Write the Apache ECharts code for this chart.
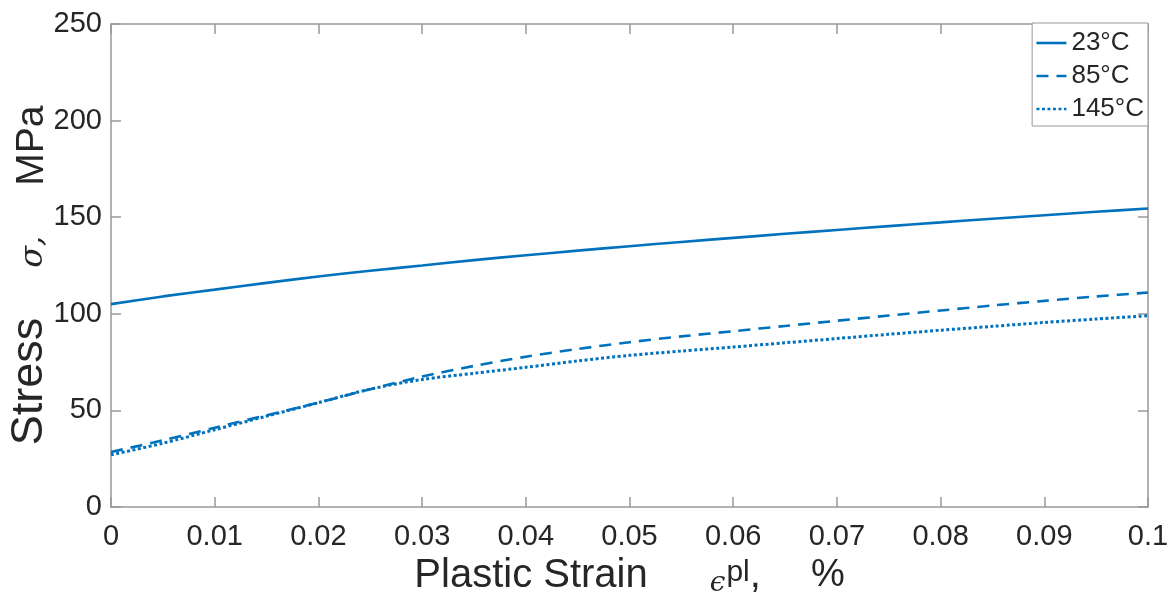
<!DOCTYPE html>
<html>
<head>
<meta charset="utf-8">
<title>Stress vs plastic strain</title>
<script src="https://cdn.jsdelivr.net/npm/echarts@6/dist/echarts.min.js"></script>
<style>
  html, body { margin: 0; padding: 0; background: #fff; }
  #chart { width: 1175px; height: 601px; }
</style>
</head>
<body>
<div id="chart"></div>
<script>
// plastic strain, %
const strain = [0, 0.005, 0.01, 0.015, 0.02, 0.025, 0.03, 0.035, 0.04, 0.045, 0.05,
  0.055, 0.06, 0.065, 0.07, 0.075, 0.08, 0.085, 0.09, 0.095, 0.1]

// stress, MPa
const stress23 = [105, 109, 112.5, 116, 119.3, 122.3, 125, 127.8, 130.3, 132.7, 135,
  137.2, 139.3, 141.4, 143.4, 145.4, 147.3, 149.2, 151, 152.8, 154.5]
const stress85 = [28.5, 34.5, 41, 47.5, 54, 61, 67.5, 73, 77.8, 81.8, 85.3,
  88.3, 91, 93.7, 96.4, 99.1, 101.7, 104.3, 106.7, 109, 111]
const stress145 = [27, 33, 40, 47, 54, 61, 66, 69.2, 72.3, 75.6, 78.5,
  80.7, 82.8, 85, 87.2, 89.4, 91.5, 93.5, 95.5, 97.3, 99]

const seriesNames = ['23°C', '85°C', '145°C']
const xTicks = [0, 0.01, 0.02, 0.03, 0.04, 0.05, 0.06, 0.07, 0.08, 0.09, 0.1]
const yTicks = [0, 50, 100, 150, 200, 250]

const blue = '#0072BD'
const axisGray = '#999999'
const textDark = '#262626'
const font = 'Liberation Sans, Arial, Helvetica, sans-serif'
const serif = 'DejaVu Serif, serif'

const pairs = ys => strain.map((x, i) => [x, ys[i]])

const chart = echarts.init(document.getElementById('chart'))

const baseX = {
  type: 'value',
  min: xTicks[0],
  max: xTicks[xTicks.length - 1],
  interval: 0.01,
  axisLine: { show: true, onZero: false, lineStyle: { color: axisGray, width: 1.5 } },
  axisTick: { show: true, inside: true, length: 10, lineStyle: { color: axisGray, width: 1.5 } },
  splitLine: { show: false }
}
const baseY = {
  type: 'value',
  min: yTicks[0],
  max: yTicks[yTicks.length - 1],
  interval: 50,
  axisLine: { show: true, onZero: false, lineStyle: { color: axisGray, width: 1.5 } },
  axisTick: { show: true, inside: true, length: 10, lineStyle: { color: axisGray, width: 1.5 } },
  splitLine: { show: false }
}

const option = {
  animation: false,
  textStyle: { fontFamily: font },
  grid: { left: 111, right: 27, top: 24, bottom: 94, containLabel: false, outerBoundsMode: 'none' },
  legend: {
    data: seriesNames,
    orient: 'vertical',
    right: 27,
    top: 23,
    backgroundColor: '#fff',
    borderColor: '#999',
    borderWidth: 1,
    borderRadius: 0,
    padding: [7, 4, 4, 3],
    itemGap: 7,
    itemWidth: 30,
    itemHeight: 14,
    itemStyle: { opacity: 0, borderWidth: 0 },
    lineStyle: { width: 2.6 },
    textStyle: { fontSize: 26, color: textDark, fontFamily: font, lineHeight: 26 }
  },
  xAxis: [
    Object.assign({}, baseX, {
      position: 'bottom',
      name: '{a|Plastic Strain}{e|ϵ}{sup|pl}{c|,}{p|%}',
      nameLocation: 'middle',
      nameGap: 42,
      nameTextStyle: {
        color: textDark, fontFamily: font, fontSize: 40,
        rich: {
          a: { fontSize: 40, lineHeight: 40, verticalAlign: 'bottom', color: textDark, fontFamily: font },
          e: { fontSize: 28, lineHeight: 28, verticalAlign: 'bottom', fontFamily: serif, fontStyle: 'italic', color: textDark, padding: [0, 0, -2, 62] },
          sup: { fontSize: 30, lineHeight: 30, verticalAlign: 'bottom', color: textDark, fontFamily: font, padding: [0, 0, 8, 1] },
          c: { fontSize: 40, lineHeight: 40, verticalAlign: 'bottom', color: textDark, fontFamily: font },
          p: { fontSize: 38, lineHeight: 38, verticalAlign: 'bottom', color: textDark, fontFamily: font, padding: [0, 0, 1, 50] }
        }
      },
      axisLabel: {
        fontSize: 29, color: textDark, margin: 15,
        formatter: v => String(+v.toFixed(2))
      }
    }),
    Object.assign({}, baseX, {
      position: 'top',
      axisLabel: { show: false }
    })
  ],
  yAxis: [
    Object.assign({}, baseY, {
      position: 'left',
      name: '{a|Stress}{s|σ,}{m|MPa}',
      nameLocation: 'middle',
      nameGap: 59,
      nameMoveOverlap: false,
      nameTextStyle: {
        color: textDark, fontFamily: font, fontSize: 42,
        rich: {
          a: { fontSize: 45, lineHeight: 45, verticalAlign: 'bottom', color: textDark, fontFamily: font },
          s: { fontSize: 32, lineHeight: 32, verticalAlign: 'bottom', fontFamily: serif, fontStyle: 'italic', color: textDark, padding: [0, 50, 2, 50] },
          m: { fontSize: 39, lineHeight: 39, verticalAlign: 'bottom', color: textDark, fontFamily: font, padding: [0, 20, 0, 0] }
        }
      },
      axisLabel: { fontSize: 29, color: textDark, margin: 9 }
    }),
    Object.assign({}, baseY, {
      position: 'right',
      axisLabel: { show: false }
    })
  ],
  series: [
    {
      name: seriesNames[0],
      type: 'line',
      data: pairs(stress23),
      symbol: 'none',
      smooth: 0.3,
      color: blue,
      lineStyle: { color: blue, width: 2.6, type: 'solid' }
    },
    {
      name: seriesNames[1],
      type: 'line',
      data: pairs(stress85),
      symbol: 'none',
      smooth: 0.3,
      color: blue,
      lineStyle: { color: blue, width: 2.6, type: [12, 8] }
    },
    {
      name: seriesNames[2],
      type: 'line',
      data: pairs(stress145),
      symbol: 'none',
      smooth: 0.3,
      color: blue,
      lineStyle: { color: blue, width: 3, type: [3, 2.5] }
    }
  ]
}

chart.setOption(option)
window.addEventListener('resize', () => chart.resize())
</script>
</body>
</html>
